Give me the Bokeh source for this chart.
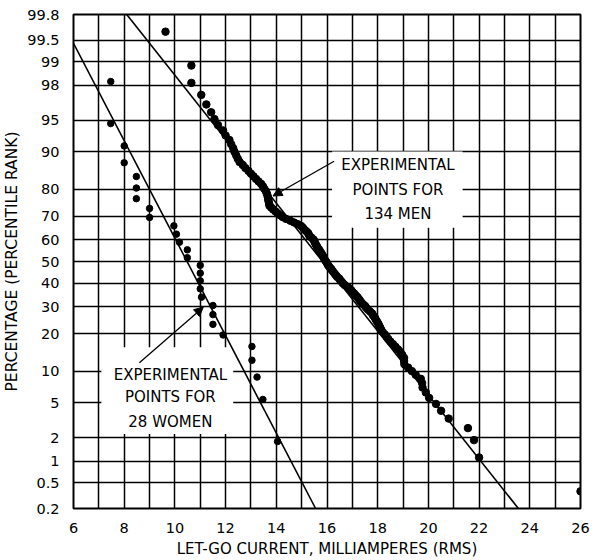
from statistics import NormalDist
from bokeh.plotting import figure
from bokeh.models import (Range1d, FixedTicker, SingleIntervalTicker, Arrow, NormalHead,
                          Label, BoxAnnotation, ColumnDataSource)
from bokeh.embed import file_html
from bokeh.resources import INLINE

# ---------------- data ----------------
y_tick_pct = [0.2, 0.5, 1, 2, 5, 10, 20, 30, 40, 50, 60, 70, 80, 90, 95, 98, 99, 99.5, 99.8]
y_tick_labels = ["0.2", "0.5", "1", "2", "5", "10", "20", "30", "40", "50", "60", "70",
                 "80", "90", "95", "98", "99", "99.5", "99.8"]
x_tick_values = [6, 8, 10, 12, 14, 16, 18, 20, 22, 24, 26]

women_current = [7.47, 7.47, 8.0, 8.0, 8.48, 8.48, 8.48, 9.0, 9.0, 9.96, 10.06, 10.18,
                 10.49, 10.49, 11.0, 11.0, 11.0, 11.0, 11.05, 11.5, 11.5, 11.5, 11.9,
                 13.04, 13.04, 13.24, 13.47, 14.05]
women_pct = [98.2, 94.6, 91.1, 87.5, 83.9, 80.4, 76.8, 73.2, 69.6, 66.1, 62.5, 58.9,
             55.4, 51.8, 48.2, 44.6, 41.1, 37.5, 33.9, 30.4, 26.8, 23.2, 19.6,
             16.1, 12.5, 8.9, 5.4, 1.8]

men_current = [9.63, 10.65, 10.65, 11.04, 11.24, 11.43, 11.56, 11.7, 11.9, 12.0,
               12.15, 12.22, 12.3, 12.35, 12.42, 12.48, 12.55, 12.68, 12.78, 12.9,
               13.0, 13.1, 13.2, 13.3, 13.4, 13.47, 13.52, 13.58, 13.62, 13.65,
               13.67, 13.68, 13.7, 13.72, 13.73, 13.8, 13.88, 13.97, 14.05, 14.15,
               14.25, 14.38, 14.55, 14.7, 14.85, 14.98, 15.05, 15.1, 15.18, 15.25,
               15.28, 15.32, 15.4, 15.47, 15.5, 15.53, 15.56, 15.6, 15.63, 15.68,
               15.72, 15.76, 15.8, 15.84, 15.87, 15.9, 15.94, 15.98, 16.02, 16.05,
               16.1, 16.16, 16.2, 16.25, 16.3, 16.35, 16.4, 16.48, 16.52, 16.58,
               16.63, 16.7, 16.8, 16.88, 16.95, 17.0, 17.07, 17.13, 17.2, 17.25,
               17.3, 17.35, 17.42, 17.5, 17.55, 17.62, 17.7, 17.78, 17.82, 17.88,
               17.92, 17.97, 18.02, 18.06, 18.1, 18.14, 18.2, 18.28, 18.35, 18.42,
               18.5, 18.6, 18.7, 18.8, 18.9, 18.97, 19.04, 19.04, 19.05, 19.2,
               19.35, 19.5, 19.7, 19.75, 19.77, 19.9, 20.03, 20.3, 20.5, 20.8,
               21.56, 21.8, 22.0, 26.0]
men_pct = [99.63, 98.88, 98.13, 97.39, 96.64, 95.90, 95.15, 94.40, 93.66, 92.91,
           92.16, 91.42, 90.67, 89.93, 89.18, 88.43, 87.69, 86.94, 86.19, 85.45,
           84.70, 83.96, 83.21, 82.46, 81.72, 80.97, 80.22, 79.48, 78.73, 77.99,
           77.24, 76.49, 75.75, 75.00, 74.25, 73.51, 72.76, 72.01, 71.27, 70.52,
           69.78, 69.03, 68.28, 67.54, 66.79, 66.04, 65.30, 64.55, 63.81, 63.06,
           62.31, 61.57, 60.82, 60.07, 59.33, 58.58, 57.84, 57.09, 56.34, 55.60,
           54.85, 54.10, 53.36, 52.61, 51.87, 51.12, 50.37, 49.63, 48.88, 48.13,
           47.39, 46.64, 45.90, 45.15, 44.40, 43.66, 42.91, 42.16, 41.42, 40.67,
           39.93, 39.18, 38.43, 37.69, 36.94, 36.19, 35.45, 34.70, 33.96, 33.21,
           32.46, 31.72, 30.97, 30.22, 29.48, 28.73, 27.99, 27.24, 26.49, 25.75,
           25.00, 24.25, 23.51, 22.76, 22.01, 21.27, 20.52, 19.78, 19.03, 18.28,
           17.54, 16.79, 16.04, 15.30, 14.55, 13.81, 13.06, 12.31, 11.57, 10.82,
           10.07, 9.33, 8.58, 7.84, 7.09, 6.34, 5.60, 4.85, 4.10, 3.36,
           2.61, 1.87, 1.12, 0.37]

women_fit_current = [6.0, 15.55]
women_fit_pct = [99.45, 0.2]
men_fit_current = [8.1, 23.55]
men_fit_pct = [99.8, 0.2]

# ---------------- probability scale ----------------
nd = NormalDist()


def zp(p):
    return round(nd.inv_cdf(p / 100.0), 6)


FONT = "DejaVu Sans"

p = figure(width=595, height=560, output_backend="svg", toolbar_location=None,
           x_range=Range1d(6, 26), y_range=Range1d(zp(0.2), zp(99.8)),
           min_border_left=72, min_border_right=15, min_border_top=14, min_border_bottom=49)
p.background_fill_color = "white"
p.border_fill_color = "white"
p.outline_line_color = "black"
p.outline_line_width = 2

# axes
p.xaxis.ticker = FixedTicker(ticks=x_tick_values)
p.yaxis.ticker = FixedTicker(ticks=[zp(v) for v in y_tick_pct])
p.yaxis.major_label_overrides = {zp(v): lab for v, lab in zip(y_tick_pct, y_tick_labels)}
for ax in (p.xaxis[0], p.yaxis[0]):
    ax.axis_line_color = None
    ax.major_tick_line_color = None
    ax.minor_tick_line_color = None
    ax.major_label_text_font = FONT
    ax.major_label_text_font_size = "14.5px"
    ax.major_label_text_color = "black"
    ax.axis_label_text_font = FONT
    ax.axis_label_text_font_style = "normal"
    ax.axis_label_text_color = "black"
p.xaxis.major_label_standoff = 8
p.yaxis.major_label_standoff = 8
p.xaxis.axis_label = "LET-GO CURRENT, MILLIAMPERES (RMS)"
p.yaxis.axis_label = "PERCENTAGE (PERCENTILE RANK)"
p.xaxis.axis_label_text_font_size = "15px"
p.yaxis.axis_label_text_font_size = "15.5px"
p.xaxis.axis_label_standoff = 4
p.yaxis.axis_label_standoff = 3

# grid
p.xgrid.ticker = SingleIntervalTicker(interval=1)
p.ygrid.ticker = FixedTicker(ticks=[zp(v) for v in y_tick_pct])
for g in (p.xgrid[0], p.ygrid[0]):
    g.grid_line_color = "black"
    g.grid_line_width = 1.5
    g.grid_line_alpha = 1.0

# white patches behind the annotations (grid interrupted there)
men_box = BoxAnnotation(left=16.2, right=21.35, top=zp(90), bottom=0.393,
                        fill_color="white", fill_alpha=1.0, line_color=None, level="underlay")
women_box = BoxAnnotation(left=7.1, right=12.3, top=-1.0, bottom=-2.01,
                          fill_color="white", fill_alpha=1.0, line_color=None, level="underlay")
p.add_layout(men_box)
p.add_layout(women_box)

# fitted lines
p.line(women_fit_current, [zp(v) for v in women_fit_pct], line_color="black", line_width=1.6)
p.line(men_fit_current, [zp(v) for v in men_fit_pct], line_color="black", line_width=1.6)

# experimental points
wsrc = ColumnDataSource(dict(x=women_current, y=[zp(v) for v in women_pct]))
msrc = ColumnDataSource(dict(x=men_current, y=[zp(v) for v in men_pct]))
p.scatter("x", "y", source=wsrc, size=6.5, fill_color="black", line_color="black")
p.scatter("x", "y", source=msrc, size=7.5, fill_color="black", line_color="black")

# annotations
men_lines = ["EXPERIMENTAL", "POINTS FOR", "134 MEN"]
men_y = [1.121, 0.832, 0.555]
for t, yy in zip(men_lines, men_y):
    p.add_layout(Label(x=18.8, y=yy, text=t, text_align="center", text_baseline="middle",
                       text_font=FONT, text_font_size="15px", text_color="black"))
women_lines = ["EXPERIMENTAL", "POINTS FOR", "28 WOMEN"]
women_y = [-1.318, -1.584, -1.873]
for t, yy in zip(women_lines, women_y):
    p.add_layout(Label(x=9.82, y=yy, text=t, text_align="center", text_baseline="middle",
                       text_font=FONT, text_font_size="15px", text_color="black"))

p.add_layout(Arrow(x_start=16.28, y_start=1.168, x_end=13.87, y_end=0.763, line_width=1.3,
                   end=NormalHead(size=9, fill_color="black", line_color="black")))
p.add_layout(Arrow(x_start=8.6, y_start=-1.179, x_end=11.12, y_end=-0.532, line_width=1.3,
                   end=NormalHead(size=9, fill_color="black", line_color="black")))

open("out.html", "w").write(file_html(p, INLINE))
